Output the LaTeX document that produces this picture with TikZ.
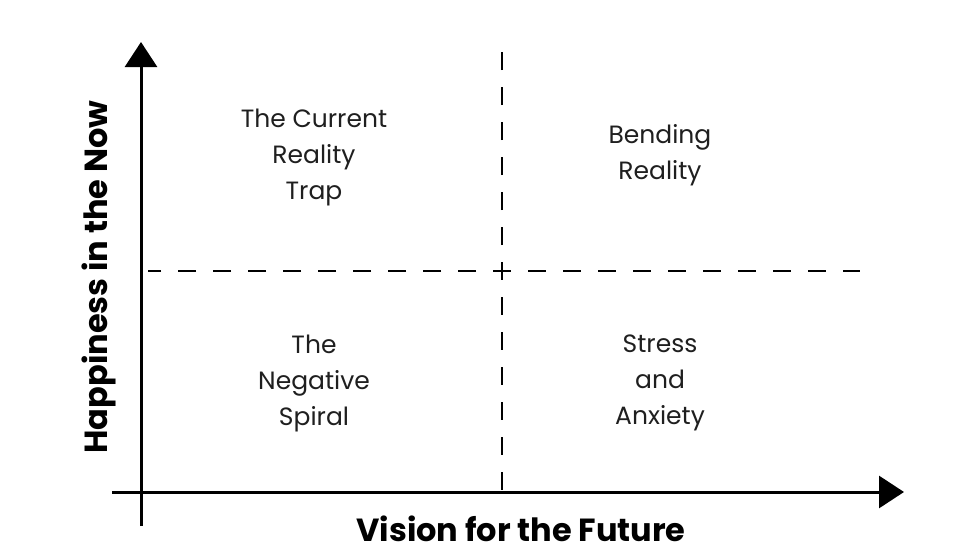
\documentclass[tikz,border=0pt]{standalone}
\usepackage{fontspec}
\setmainfont{Poppins}
\usetikzlibrary{arrows.meta}
\begin{document}
\begin{tikzpicture}[x=1pt,y=-1pt,
  axis/.style={line width=3pt,-{Triangle[length=25pt,width=32pt]}},
  dashline/.style={line width=2.6pt,dash pattern=on 18pt off 17pt,dash phase=9pt},
  quad/.style={align=center,font=\fontsize{25}{36}\selectfont,text=black!88},
  axlabel/.style={font=\fontsize{32}{36}\bfseries\selectfont}]
\useasboundingbox (0,0) rectangle (962,560);
\fill[white] (0,0) rectangle (962,560);
\coordinate (o) at (141,492);
\coordinate (ybot) at (141,526);
\coordinate (ytop) at (141,42);
\coordinate (xleft) at (112,492);
\coordinate (xright) at (904,492);
\coordinate (c) at (502,271);
\coordinate (vt) at (502,52);
\coordinate (vb) at (502,490);
\coordinate (hl) at (148,271);
\coordinate (hr) at (860,271);
\draw[dashline] (c) -- (vt);
\draw[dashline] (c) -- (vb);
\draw[dashline] (c) -- (hl);
\draw[dashline] (c) -- (hr);
\draw[axis] (ybot) -- (ytop);
\draw[axis] (xleft) -- (xright);
\node[quad] (q1) at (314,157) {The Current\\Reality\\Trap};
\node[quad] (q2) at (660,155) {Bending\\Reality};
\node[quad] (q3) at (314,383) {The\\Negative\\Spiral};
\node[quad] (q4) at (660,383) {Stress\\and\\Anxiety};
\node[axlabel] (xl) at (521,529) {Vision for the Future};
\node[axlabel,rotate=90] (yl) at (99,277) {Happiness in the Now};
\end{tikzpicture}
\end{document}
